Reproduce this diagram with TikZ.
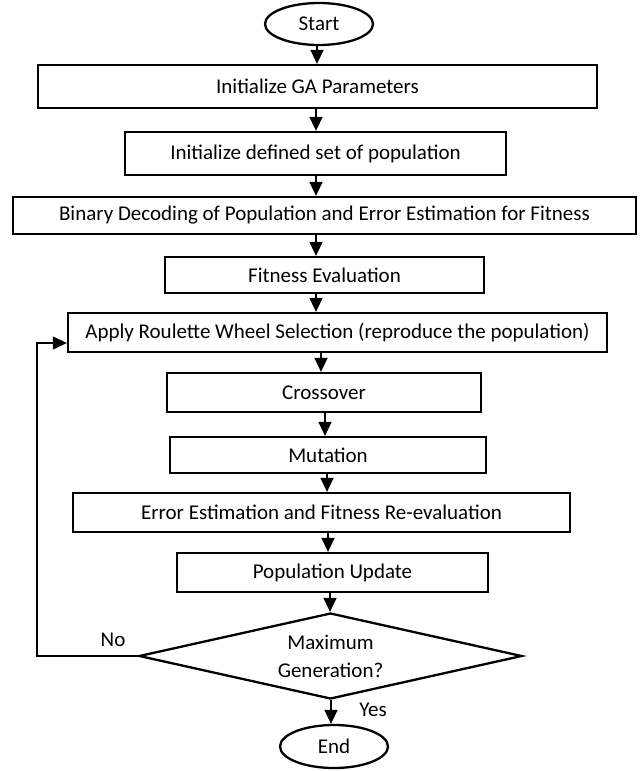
\documentclass[tikz,border=0pt]{standalone}
\usepackage{fontspec}
\setmainfont{Carlito}
\usetikzlibrary{shapes.geometric,arrows.meta}
\begin{document}
\begin{tikzpicture}[x=1pt,y=-1pt,
    font=\fontsize{21}{28}\selectfont,
    procbox/.style={draw=black, line width=2.3pt, inner sep=0pt, minimum width=#1},
    termnode/.style={draw=black, ellipse, line width=2.3pt, inner sep=0pt, minimum width=108pt, minimum height=42pt},
    decnode/.style={draw=black, diamond, aspect=4.45, line width=2.3pt, inner sep=0pt, align=center, minimum width=383pt, minimum height=86pt},
    arr/.style={line width=1.6pt, -{Triangle[length=14pt 0,width=13pt 0]}}]
    \useasboundingbox (0,0) rectangle (644,771);
    \node[termnode] (start) at (319,24) {Start};
    \node[procbox=559pt, minimum height=43pt] (b1) at (317.5,86.5) {Initialize GA Parameters};
    \node[procbox=381pt, minimum height=43pt] (b2) at (315.5,153.5) {Initialize defined set of population};
    \node[procbox=623pt, minimum height=37pt] (b3) at (324.5,215.5) {Binary Decoding of Population and Error Estimation for Fitness};
    \node[procbox=319pt, minimum height=36pt] (b4) at (324.5,275) {Fitness Evaluation};
    \node[procbox=539pt, minimum height=39pt] (b5) at (337.5,332.5) {Apply Roulette Wheel Selection (reproduce the population)};
    \node[procbox=314pt, minimum height=39pt] (b6) at (324,392.5) {Crossover};
    \node[procbox=316pt, minimum height=36pt] (b7) at (328,455) {Mutation};
    \node[procbox=497pt, minimum height=39pt] (b8) at (321.5,512.5) {Error Estimation and Fitness Re-evaluation};
    \node[procbox=311pt, minimum height=39pt] (b9) at (332.5,572.5) {Population Update};
    \node[decnode] (dec) at (330.5,656) {Maximum\\Generation?};
    \node[termnode, minimum height=43pt] (stop) at (334,746.5) {End};
    \foreach \a/\b/\x in {start/b1/317, b1/b2/316, b2/b3/316, b3/b4/316, b4/b5/316,
        b5/b6/321, b6/b7/325, b7/b8/327, b8/b9/328, b9/dec/330, dec/stop/331}
        \draw[arr] (\a.south -| \x,0) -- (\b.north -| \x,0);
    \coordinate (lp) at (37,343);
    \draw[arr, line width=1.1pt] (dec.west) -- (dec.west -| lp) -- (lp) -- (lp -| b5.west);
    \node (no) at (113,640) {No};
    \node (yes) at (373,710) {Yes};
\end{tikzpicture}
\end{document}
